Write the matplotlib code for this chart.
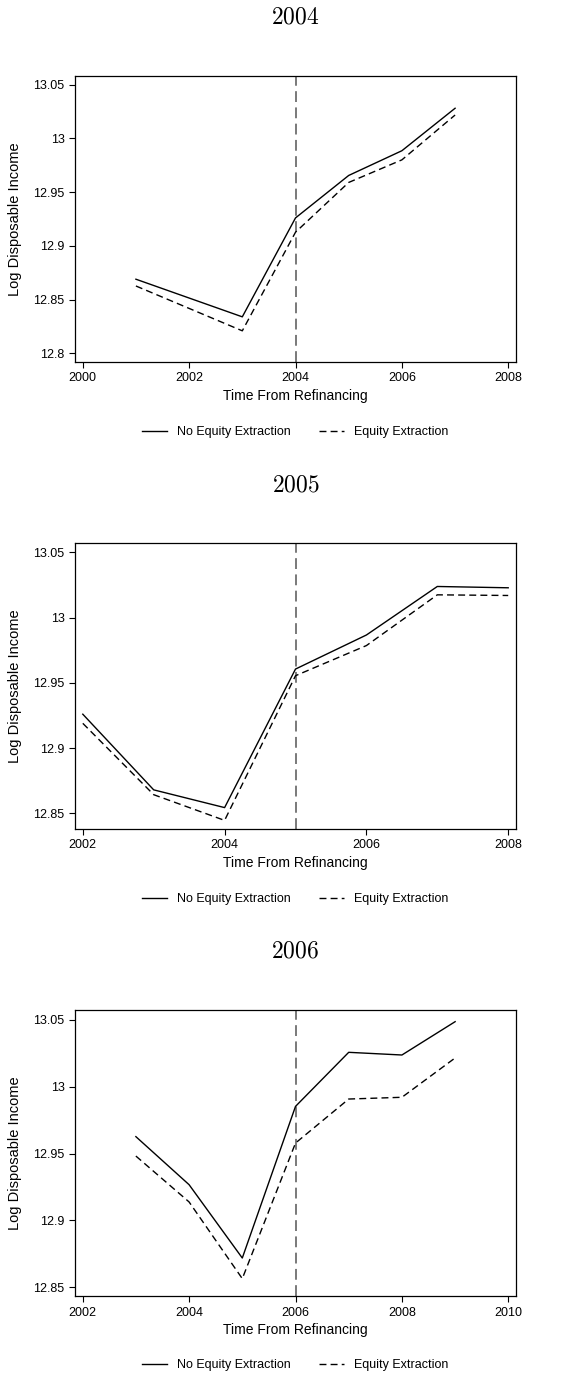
import numpy as np
import matplotlib
matplotlib.use("Agg")
import matplotlib.pyplot as plt
from matplotlib.ticker import FuncFormatter

plt.rcParams["font.family"] = ["Liberation Sans", "DejaVu Sans"]
plt.rcParams["mathtext.fontset"] = "cm"

# refinancing cohorts
cohorts = [2004, 2005, 2006]

years_2004 = [2001, 2003, 2004, 2005, 2006, 2007]
no_eq_2004 = [12.869, 12.834, 12.926, 12.9655, 12.9885, 13.028]
eq_2004 = [12.8627, 12.821, 12.9127, 12.959, 12.980, 13.0217]

years_2005 = [2002, 2003, 2004, 2005, 2006, 2007, 2008]
no_eq_2005 = [12.926, 12.868, 12.8544, 12.9606, 12.9867, 13.0239, 13.0229]
eq_2005 = [12.919, 12.8643, 12.8446, 12.9555, 12.9786, 13.0175, 13.017]

years_2006 = [2003, 2004, 2005, 2006, 2007, 2008, 2009]
no_eq_2006 = [12.9626, 12.9267, 12.8719, 12.9852, 13.0256, 13.0236, 13.0485]
eq_2006 = [12.9481, 12.9138, 12.8565, 12.9578, 12.9907, 12.9920, 13.0214]

xticks_all = [
    [2000, 2002, 2004, 2006, 2008],
    [2002, 2004, 2006, 2008],
    [2002, 2004, 2006, 2008, 2010],
]
yticks_all = [
    [12.8, 12.85, 12.9, 12.95, 13.0, 13.05],
    [12.85, 12.9, 12.95, 13.0, 13.05],
    [12.85, 12.9, 12.95, 13.0, 13.05],
]
xlims = [(1999.855, 2008.145), (2001.89, 2008.11), (2001.856, 2010.144)]
ylims = [(12.792, 13.058), (12.838, 13.057), (12.8433, 13.057)]

series = [
    (years_2004, no_eq_2004, eq_2004),
    (years_2005, no_eq_2005, eq_2005),
    (years_2006, no_eq_2006, eq_2006),
]

W, H = 587, 1378
fig = plt.figure(figsize=(W / 100, H / 100), dpi=100)

# axes boxes in pixels: (top, bottom)
boxes = [(76, 362), (543.3, 829), (1010.3, 1296.3)]
title_y = [18, 485, 951.3]
legend_y = [432, 899, 1365]
left, right = 75, 516

fmt = FuncFormatter(lambda v, p: f"{v:g}")

for i, cohort in enumerate(cohorts):
    top, bot = boxes[i]
    ax = fig.add_axes([left / W, 1 - bot / H, (right - left) / W, (bot - top) / H])
    yrs, no_eq, eq = series[i]
    ax.axvline(cohort, color="#6e6e6e", lw=1.3, ls=(0, (6, 3)), zorder=1)
    ax.plot(yrs, no_eq, color="black", lw=1.0, label="No Equity Extraction", zorder=3)
    ax.plot(yrs, eq, color="black", lw=1.0, ls=(0, (5, 3)), label="Equity Extraction", zorder=3)

    ax.set_xlim(*xlims[i])
    ax.set_ylim(*ylims[i])
    ax.set_xticks(xticks_all[i])
    ax.set_yticks(yticks_all[i])
    ax.yaxis.set_major_formatter(fmt)
    ax.tick_params(labelsize=9, length=4, width=0.8, color="black")
    for s in ax.spines.values():
        s.set_linewidth(0.9)
    ax.set_xlabel("Time From Refinancing", fontsize=10, labelpad=3)
    ax.set_ylabel("Log Disposable Income", fontsize=10.5, labelpad=8)

    fig.text(0.5 * (left + right) / W, 1 - title_y[i] / H, rf"$\mathrm{{{cohort}}}$",
             ha="center", va="center", fontsize=17)

    fig.legend(*ax.get_legend_handles_labels(), loc="center",
               bbox_to_anchor=(295 / W, 1 - legend_y[i] / H), ncol=2, frameon=False,
               fontsize=9, handlelength=2.0, columnspacing=2.3, handletextpad=0.8)

fig.savefig("out.png", dpi=100)
